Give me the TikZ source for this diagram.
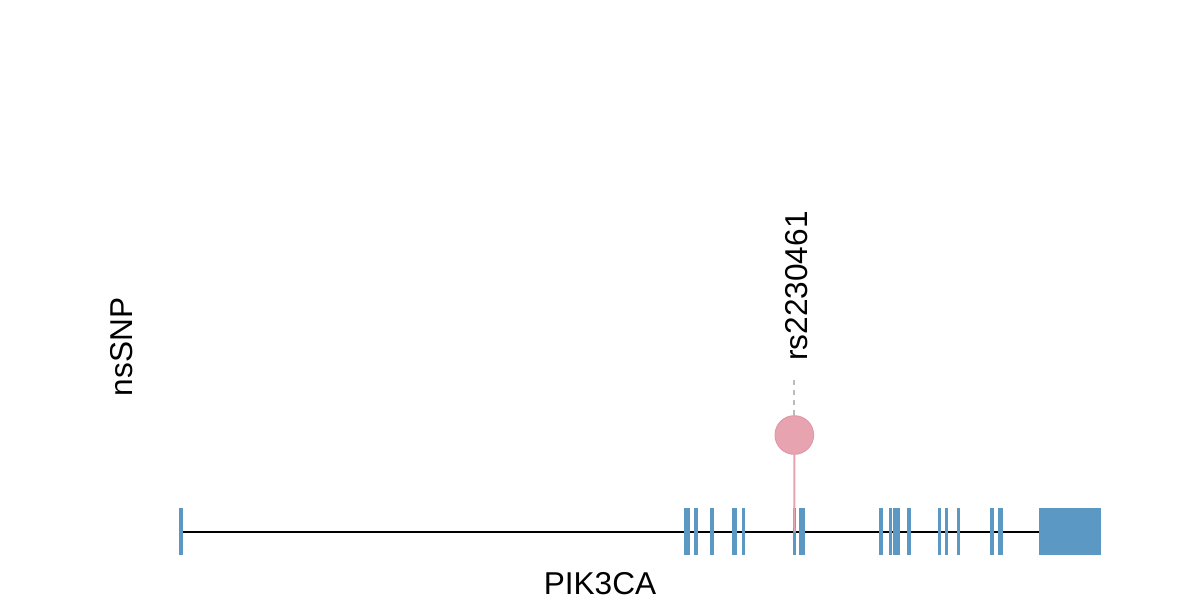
\documentclass[tikz,border=0pt]{standalone}
\usepackage{fontspec}
\setmainfont{Liberation Sans}
\definecolor{exonblue}{HTML}{5B98C4}
\definecolor{snppink}{HTML}{E8A3B1}
\definecolor{snpedge}{HTML}{E297A8}
\definecolor{dashgrey}{HTML}{BBBBBB}
\begin{document}
\begin{tikzpicture}[x=0.5pt,y=-0.5pt,
  exon/.style={fill=exonblue,draw=none},
  lbl/.style={font=\fontsize{15.8}{18}\selectfont,inner sep=0pt}]
\useasboundingbox (0,0) rectangle (1200,600);
% backbone
\coordinate (gs) at (183,531.5);
\coordinate (ge) at (1039,531.5);
\draw[black,line width=1pt] (gs) -- (ge);
% exons
\foreach \a/\b in {179/183.3,684.3/690.3,693.7/697.7,709.7/714,732.3/737,742/744.7,793/796,799/804.7,879.3/882.7,889.3/892,893.3/899.7,907.3/911,938/941,944.7/947.7,957/959.7,990.3/994,997.7/1003.3,1039/1100.7}
  \fill[exonblue] (\a,508.3) rectangle (\b,555);
% lollipop
\coordinate (snpbase) at (794.5,531.5);
\node[circle,fill=snppink,draw=snpedge,line width=0.5pt,minimum size=19.3pt,inner sep=0pt] (snp) at (794.3,435) {};
\draw[snppink,line width=1pt] (snp.south) -- (snpbase);
\coordinate (dtop) at (794.3,380);
\draw[dashgrey,line width=1pt,dash pattern=on 2.5pt off 2.5pt] (snp.north) -- (dtop);
\node[lbl,rotate=90,anchor=west] (rs) at (797,361) {rs2230461};
% labels
\node[lbl,rotate=90] (ns) at (122,347) {nsSNP};
\node[lbl] (gene) at (600,584) {PIK3CA};
\end{tikzpicture}
\end{document}
